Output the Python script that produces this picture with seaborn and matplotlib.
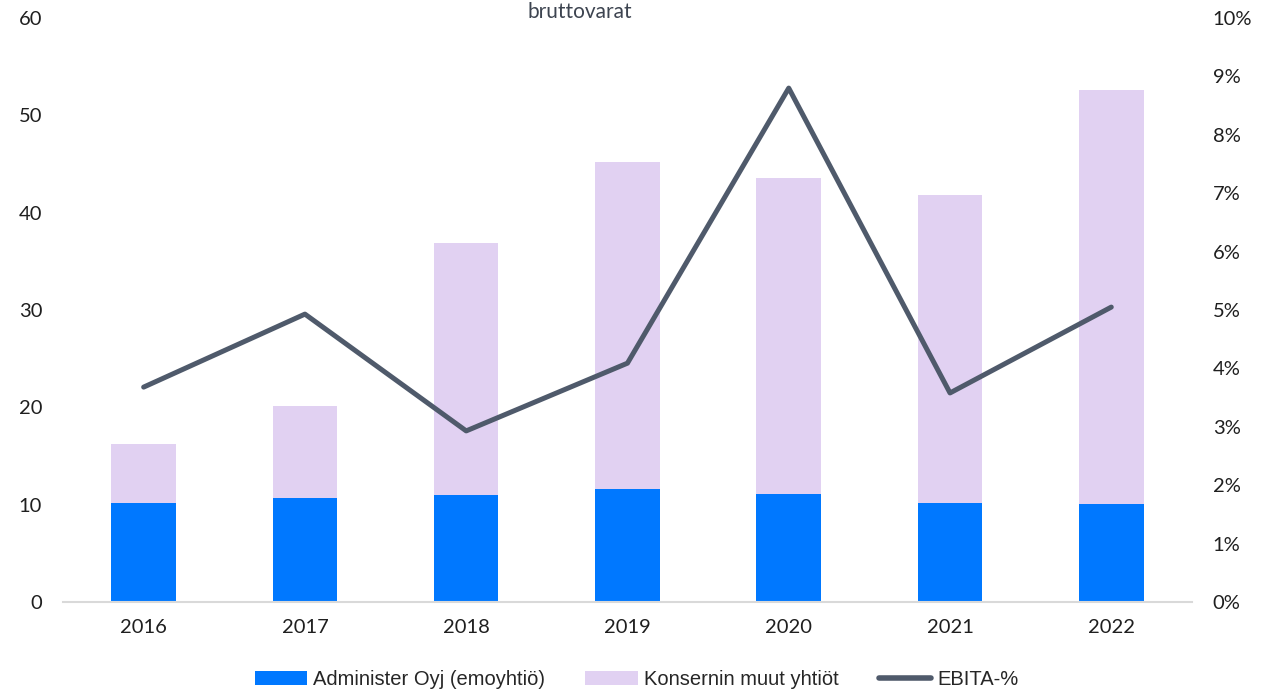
import matplotlib
matplotlib.use("Agg")
import matplotlib.pyplot as plt
import seaborn as sns
import pandas as pd
import numpy as np
from matplotlib.patches import Patch
from matplotlib.lines import Line2D

years = ["2016", "2017", "2018", "2019", "2020", "2021", "2022"]
parent = [10.2, 10.7, 11.0, 11.6, 11.1, 10.2, 10.1]
others = [6.0, 9.4, 25.9, 33.6, 32.5, 31.6, 42.5]
ebita_pct = [3.68, 4.93, 2.93, 4.09, 8.80, 3.58, 5.05]
left_ticks = [0, 10, 20, 30, 40, 50, 60]
right_ticks = [0, 1, 2, 3, 4, 5, 6, 7, 8, 9, 10]

blue = "#0078FF"
lavender = "#E1D1F2"
line_col = "#4F5A6B"
text_col = "#1f1f1f"

sns.set_theme(style="white")
plt.rcParams["font.family"] = ["Lato", "DejaVu Sans"]

df = pd.DataFrame({"year": years, "parent": parent, "others": others, "ebita": ebita_pct})
df["total"] = df["parent"] + df["others"]

fig = plt.figure(figsize=(12.68, 6.9), dpi=100)
ax = fig.add_axes([0.0497, 0.1275, 0.8903, 0.8464])

sns.barplot(data=df, x="year", y="total", color=lavender, width=0.4, ax=ax,
            saturation=1, linewidth=0)
sns.barplot(data=df, x="year", y="parent", color=blue, width=0.4, ax=ax,
            saturation=1, linewidth=0)

ax.set_xlim(-0.5, len(years) - 0.5)
ax.set_ylim(0, 60)
ax.set_yticks(left_ticks)
ax.set_xlabel("")
ax.set_ylabel("")
for s in ["top", "right", "left"]:
    ax.spines[s].set_visible(False)
ax.spines["bottom"].set_color("#d9d9d9")
ax.spines["bottom"].set_linewidth(1.5)
ax.tick_params(axis="both", length=0, labelsize=14.5, colors=text_col)
ax.tick_params(axis="y", pad=15)
ax.tick_params(axis="x", pad=12)

ax2 = ax.twinx()
sns.lineplot(x=np.arange(len(years)), y=df["ebita"], color=line_col, linewidth=3.6, ax=ax2)
ax2.set_ylim(0, 10)
ax2.set_yticks(right_ticks)
ax2.set_yticklabels([f"{t}%" for t in right_ticks])
ax2.set_ylabel("")
for s in ["top", "right", "left", "bottom"]:
    ax2.spines[s].set_visible(False)
ax2.tick_params(axis="y", length=0, labelsize=14.5, colors=text_col, pad=15)
ax.set_xlim(-0.5, len(years) - 0.5)

fig.text(0.457, 0.982, "bruttovarat", ha="center", va="center", fontsize=15, color="#3d4450")

handles = [
    Patch(facecolor=blue, edgecolor="none"),
    Patch(facecolor=lavender, edgecolor="none"),
    Line2D([0], [0], color=line_col, linewidth=4, solid_capstyle="round"),
]
labels = ["Administer Oyj (emoyhtiö)", "Konsernin muut yhtiöt", "EBITA-%"]
fig.legend(handles, labels, loc="center", bbox_to_anchor=(0.502, 0.015), ncol=3,
           frameon=False, handlelength=2.6, handleheight=0.7,
           handletextpad=0.3, columnspacing=2.0,
           prop={"family": ["Liberation Sans", "DejaVu Sans"], "size": 14.5})

fig.savefig("out.png", dpi=100)
